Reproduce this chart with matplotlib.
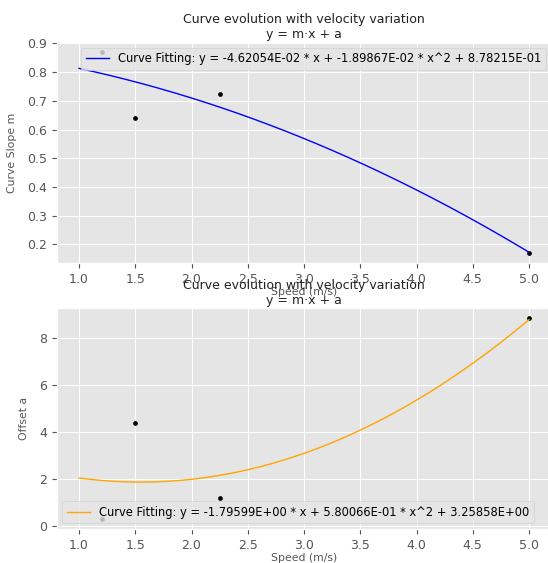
import numpy as np
import matplotlib
matplotlib.use("Agg")
import matplotlib.pyplot as plt

plt.style.use("ggplot")

speed = [1.2, 1.5, 2.25, 5.0]
slope = [0.87, 0.64, 0.725, 0.17]
offset = [0.3, 4.4, 1.2, 8.85]

# fitted coefficients: y = b*x + c*x^2 + a
slope_fit = (-4.62054e-02, -1.89867e-02, 8.78215e-01)
offset_fit = (-1.79599e00, 5.80066e-01, 3.25858e00)

W, H = 548, 563
fig = plt.figure(figsize=(W / 100, H / 100), dpi=100)
# right edge of the axes runs slightly past the picture, as in the reference crop
ax1 = fig.add_axes([56.5 / W, 1 - 263 / H, 495 / W, (263 - 42) / H])
ax2 = fig.add_axes([56.5 / W, 1 - 529 / H, 495 / W, (529 - 308) / H])

xs = np.linspace(1.0, 5.0, 200)


def draw(ax, ys, fit, color, ylabel, loc):
    b, c, a = fit
    label = f"Curve Fitting: y = {b:.5E} * x + {c:.5E} * x^2 + {a:.5E}"
    ax.plot(xs, b * xs + c * xs**2 + a, color=color, lw=1, label=label)
    ax.scatter(speed, ys, color="black", s=8, zorder=1)
    ax.set_title("Curve evolution with velocity variation\ny = m\u00b7x + a",
                 fontsize=9, color="#222222", pad=3)
    ax.set_xlabel("Speed (m/s)", fontsize=7.8, color="#555555", labelpad=1)
    ax.set_ylabel(ylabel, fontsize=7.8, color="#555555", labelpad=7)
    ax.tick_params(labelsize=9)
    ax.legend(loc=loc, fontsize=8.3, framealpha=0.8)


draw(ax1, slope, slope_fit, "blue", "Curve Slope m", "upper right")
draw(ax2, offset, offset_fit, "orange", "Offset a", "lower left")

fig.savefig("out.png", dpi=100)
